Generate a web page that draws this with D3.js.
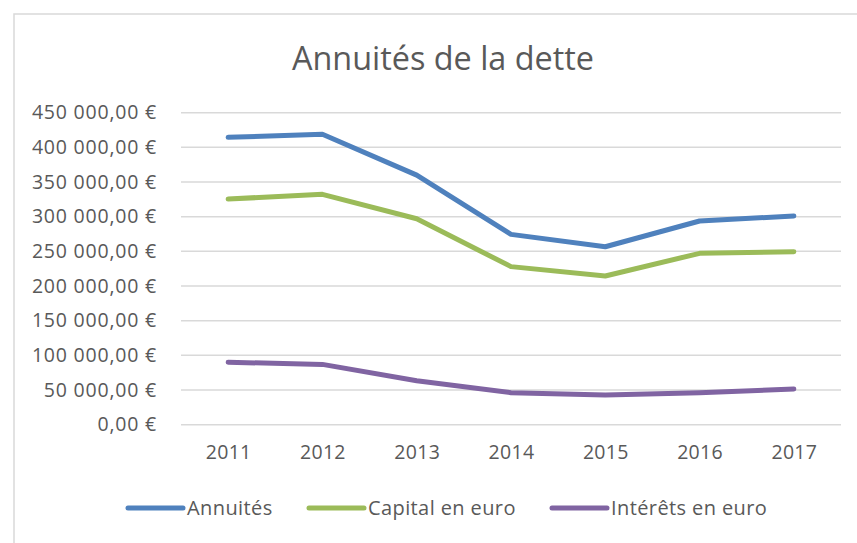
<!DOCTYPE html>
<html>
<head>
<meta charset="utf-8">
<script src="https://cdn.jsdelivr.net/npm/d3@7"></script>
<style>
  html, body { margin: 0; padding: 0; background: #fff; }
  svg { display: block; }
  text { font-family: "Open Sans", "Liberation Sans", sans-serif; fill: #595959; }
</style>
</head>
<body>
<svg id="chart" width="857" height="543"></svg>
<script>
const years = ["2011", "2012", "2013", "2014", "2015", "2016", "2017"];
const annuites = [414500, 419000, 360000, 274500, 256700, 293800, 301000];
const capital = [325500, 332300, 297000, 228000, 214400, 247200, 249500];
const interets = [90000, 87000, 63400, 46200, 42800, 46200, 51500];
const seriesNames = ["Annuités", "Capital en euro", "Intérêts en euro"];
const seriesColors = ["#4f81bd", "#9bbb59", "#8064a2"];
const yTicks = [0, 50000, 100000, 150000, 200000, 250000, 300000, 350000, 400000, 450000];
const title = "Annuités de la dette";

(function () {
const series = [annuites, capital, interets].map((vals, i) => ({
  name: seriesNames[i], color: seriesColors[i], values: vals
}));

const svg = d3.select("#chart");
const W = 857, H = 543;
const pLeft = 181, pRight = 841, pTop = 112.7, pBottom = 424.7;

svg.append("rect").attr("x", 0).attr("y", 0).attr("width", W).attr("height", H).attr("fill", "#fff");
svg.append("rect").attr("x", 14).attr("y", 14).attr("width", W + 10).attr("height", H + 10)
  .attr("fill", "none").attr("stroke", "#d9d9d9").attr("stroke-width", 1.5);

const fr = d3.formatLocale({decimal: ",", thousands: "\u00a0", grouping: [3], currency: ["", "\u00a0€"]});
const fmt = fr.format("$,.2f");

const x = d3.scalePoint().domain(years).range([pLeft, pRight]).padding(0.5);
const y = d3.scaleLinear().domain([0, 450000]).range([pBottom, pTop]);

// gridlines
svg.append("g").selectAll("line").data(yTicks).join("line")
  .attr("x1", pLeft).attr("x2", pRight)
  .attr("y1", d => y(d)).attr("y2", d => y(d))
  .attr("stroke", "#d9d9d9").attr("stroke-width", 1.5);

// y axis labels
const yAxis = d3.axisLeft(y).tickValues(yTicks).tickFormat(fmt).tickSize(0).tickPadding(0);
const gy = svg.append("g").attr("transform", "translate(157,0)").call(yAxis);
gy.select(".domain").remove();
gy.selectAll("text").attr("font-size", 19.5).attr("fill", "#595959")
  .style("font-family", "\"Open Sans\", sans-serif").attr("letter-spacing", 0.8);

// x axis labels
const xAxis = d3.axisBottom(x).tickSize(0).tickPadding(0);
const gx = svg.append("g").attr("transform", "translate(0,445)").call(xAxis);
gx.select(".domain").remove();
gx.selectAll("text").attr("font-size", 19.5).attr("fill", "#595959")
  .style("font-family", "\"Open Sans\", sans-serif").attr("letter-spacing", 0.3);

// lines
const line = d3.line().x((d, i) => x(years[i])).y(d => y(d));
svg.append("g").selectAll("path").data(series).join("path")
  .attr("d", d => line(d.values))
  .attr("fill", "none").attr("stroke", d => d.color)
  .attr("stroke-width", 5).attr("stroke-linecap", "round").attr("stroke-linejoin", "round");

// title
svg.append("text").attr("x", 443).attr("y", 70).attr("text-anchor", "middle")
  .attr("font-size", 32.4).attr("fill", "#595959").text(title);

// legend
const legendX = [128, 309, 552];
const lg = svg.append("g").selectAll("g").data(series).join("g")
  .attr("transform", (d, i) => `translate(${legendX[i]},508)`);
lg.append("line").attr("x1", 0).attr("x2", 55).attr("y1", 0).attr("y2", 0)
  .attr("stroke", d => d.color).attr("stroke-width", 5).attr("stroke-linecap", "round");
lg.append("text").attr("x", 59).attr("y", 0).attr("dy", "0.35em")
  .attr("font-size", 20).attr("letter-spacing", 0.4).attr("fill", "#595959").text(d => d.name);
})();
</script>
</body>
</html>
